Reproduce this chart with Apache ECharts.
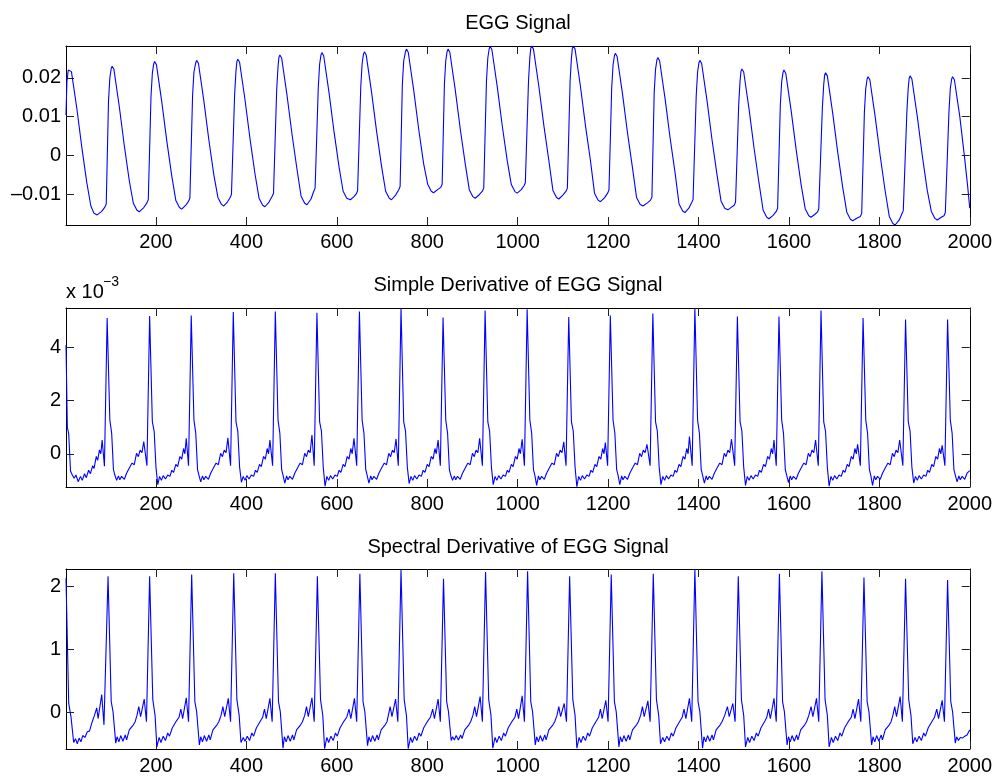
<!DOCTYPE html>
<html>
<head>
<meta charset="utf-8">
<script src="https://cdn.jsdelivr.net/npm/echarts@6/dist/echarts.min.js"></script>
<style>
html,body{margin:0;padding:0;background:#fff;}
#chart{width:995px;height:778px;}
</style>
</head>
<body>
<div id="chart"></div>
<script>
// ---- data (sample index, value) ----
const titles = ['EGG Signal', 'Simple Derivative of EGG Signal', 'Spectral Derivative of EGG Signal'];
const xTicks = [200, 400, 600, 800, 1000, 1200, 1400, 1600, 1800, 2000];
const yTicksEgg = [-0.01, 0, 0.01, 0.02];
const yTicksSimple = [0, 2, 4];      // in units of 1e-3
const yTicksSpectral = [0, 1, 2];

const egg = [
[1,.0104],[3,.0190],[6,.0220],[9,.0224],[13,.0216],[25,.0121],[36,.0021],[47,-.0070],[56,-.0130],[63,-.0149],[70,-.0153],[80,-.0144],[87,-.0133],[90,-.0125],
[91,-.0121],[95,.0140],[98,.0200],[101,.0224],[103,.0230],[107,.0222],[119,.0125],[130,.0025],[141,-.0065],[150,-.0123],[158,-.0141],[163,-.0145],[173,-.0134],[180,-.0122],[183,-.0114],
[185,-.0110],[189,.0152],[192,.0212],[195,.0236],[197,.0242],[201,.0234],[213,.0137],[224,.0037],[235,-.0053],[244,-.0116],[252,-.0134],[257,-.0138],[266,-.0128],[272,-.0118],[275,-.0110],
[277,-.0106],[281,.0155],[284,.0215],[288,.0239],[290,.0245],[294,.0237],[306,.0140],[317,.0040],[328,-.0050],[337,-.0108],[345,-.0126],[350,-.0130],[358,-.0120],[364,-.0108],[367,-.0100],
[370,-.0096],[374,.0158],[377,.0218],[379,.0242],[381,.0248],[385,.0240],[397,.0143],[408,.0043],[419,-.0047],[428,-.0110],[436,-.0128],[441,-.0132],[450,-.0120],[457,-.0105],[460,-.0097],
[463,-.0093],[467,.0169],[470,.0229],[472,.0253],[474,.0259],[478,.0251],[490,.0154],[501,.0054],[512,-.0036],[521,-.0105],[529,-.0123],[534,-.0127],[543,-.0112],[549,-.0092],[552,-.0084],
[555,-.0080],[559,.0175],[562,.0235],[565,.0259],[567,.0265],[571,.0257],[583,.0160],[594,.0060],[605,-.0030],[614,-.0092],[622,-.0110],[630,-.0114],[638,-.0106],[643,-.0099],[646,-.0091],
[649,-.0087],[653,.0177],[656,.0237],[659,.0261],[661,.0267],[665,.0259],[677,.0162],[688,.0062],[699,-.0028],[708,-.0092],[716,-.0110],[721,-.0114],[730,-.0102],[737,-.0088],[740,-.0080],
[741,-.0076],[745,.0184],[748,.0244],[752,.0268],[754,.0274],[758,.0266],[770,.0169],[781,.0069],[792,-.0021],[801,-.0074],[809,-.0092],[814,-.0096],[823,-.0088],[830,-.0082],[833,-.0074],
[834,-.0070],[838,.0184],[841,.0244],[844,.0268],[846,.0274],[850,.0266],[862,.0169],[873,.0069],[884,-.0021],[893,-.0088],[901,-.0106],[906,-.0110],[915,-.0101],[922,-.0092],[925,-.0084],
[927,-.0080],[931,.0191],[934,.0251],[937,.0275],[939,.0281],[943,.0273],[955,.0176],[966,.0076],[977,-.0014],[986,-.0075],[994,-.0093],[999,-.0097],[1008,-.0088],[1014,-.0078],[1017,-.0070],
[1020,-.0066],[1024,.0192],[1027,.0252],[1029,.0276],[1031,.0282],[1035,.0274],[1047,.0177],[1058,.0077],[1069,-.0013],[1078,-.0090],[1086,-.0108],[1091,-.0112],[1100,-.0102],[1107,-.0092],[1110,-.0084],
[1112,-.0080],[1116,.0192],[1119,.0252],[1121,.0276],[1123,.0282],[1127,.0274],[1139,.0177],[1150,.0077],[1161,-.0013],[1170,-.0097],[1178,-.0115],[1183,-.0119],[1192,-.0109],[1199,-.0097],[1202,-.0089],
[1204,-.0085],[1208,.0173],[1211,.0233],[1214,.0257],[1216,.0263],[1220,.0255],[1232,.0158],[1243,.0058],[1254,-.0032],[1263,-.0108],[1271,-.0126],[1277,-.0130],[1287,-.0122],[1294,-.0115],[1297,-.0107],
[1298,-.0103],[1302,.0162],[1305,.0222],[1308,.0246],[1310,.0252],[1314,.0244],[1326,.0147],[1337,.0047],[1348,-.0043],[1357,-.0125],[1365,-.0143],[1370,-.0147],[1379,-.0135],[1385,-.0121],[1388,-.0113],
[1391,-.0109],[1395,.0155],[1398,.0215],[1401,.0239],[1403,.0245],[1407,.0237],[1419,.0140],[1430,.0040],[1441,-.0050],[1450,-.0118],[1458,-.0136],[1465,-.0140],[1473,-.0133],[1479,-.0128],[1482,-.0120],
[1485,-.0116],[1489,.0133],[1492,.0193],[1494,.0217],[1496,.0223],[1500,.0215],[1512,.0118],[1523,.0018],[1534,-.0072],[1543,-.0141],[1551,-.0159],[1556,-.0163],[1565,-.0154],[1572,-.0144],[1575,-.0136],
[1577,-.0132],[1581,.0130],[1584,.0190],[1587,.0214],[1589,.0220],[1593,.0212],[1605,.0115],[1616,.0015],[1627,-.0075],[1636,-.0137],[1644,-.0155],[1649,-.0159],[1657,-.0152],[1663,-.0146],[1666,-.0138],
[1670,-.0134],[1674,.0123],[1677,.0183],[1679,.0207],[1681,.0213],[1685,.0205],[1697,.0108],[1708,.0008],[1719,-.0082],[1728,-.0146],[1736,-.0164],[1741,-.0168],[1751,-.0161],[1758,-.0157],[1761,-.0149],
[1763,-.0145],[1767,.0113],[1770,.0173],[1773,.0197],[1775,.0203],[1779,.0195],[1791,.0098],[1802,-.0002],[1813,-.0092],[1822,-.0157],[1830,-.0175],[1835,-.0179],[1844,-.0166],[1850,-.0150],[1853,-.0142],
[1857,-.0138],[1861,.0115],[1864,.0175],[1866,.0199],[1868,.0205],[1872,.0197],[1884,.0100],[1895,.0000],[1906,-.0090],[1915,-.0144],[1923,-.0162],[1928,-.0166],[1937,-.0159],[1943,-.0155],[1946,-.0147],
[1950,-.0143],[1954,.0113],[1957,.0173],[1960,.0197],[1962,.0203],[1966,.0195],[1978,.0100],[1989,-.0010],[1995,-.0075],[2000,-.0136]
];

// simple derivative, values in units of 1e-3
const simpleDeriv = [
[1,4.10],[4,1.00],[7,0.75],[11,-0.65],[15,-0.80],[19,-0.92],[23,-0.80],[28,-1.05],[33,-0.85],[37,-1.00],[42,-0.75],[46,-0.90],[51,-0.62],[55,-0.75],[60,-0.45],[63,-0.55],[68,-0.10],[71,-0.25],[75,0.15],[78,0.00],[81,0.52],[86,-0.47],
[92,5.11],[98,1.27],[102,0.78],[106,-0.60],[109,-0.80],[113,-1.00],[117,-0.83],[120,-0.98],[124,-0.85],[130,-0.96],[135,-0.73],[139,-0.60],[142,-0.66],[147,-0.35],[152,-0.41],[157,0.02],[161,-0.11],[165,0.14],[169,0.04],[173,0.46],[180,-0.45],
[186,5.19],[192,1.20],[196,0.85],[200,-0.50],[204,-1.16],[208,-0.85],[212,-1.00],[216,-0.82],[221,-0.95],[226,-0.80],[231,-0.85],[235,-0.62],[239,-0.70],[244,-0.40],[248,-0.48],[253,-0.10],[257,-0.20],[261,0.20],[264,0.00],[267,0.58],[272,-0.45],
[278,5.21],[284,1.27],[288,0.78],[292,-0.60],[295,-0.80],[299,-1.06],[303,-0.83],[306,-0.98],[310,-0.85],[316,-0.96],[321,-0.73],[325,-0.60],[328,-0.66],[333,-0.35],[338,-0.41],[343,0.02],[347,-0.11],[351,0.14],[355,0.04],[359,0.60],[365,-0.45],
[371,5.34],[377,1.20],[381,0.85],[385,-0.50],[389,-1.07],[393,-0.85],[397,-1.00],[401,-0.82],[406,-0.95],[411,-0.80],[416,-0.85],[420,-0.62],[424,-0.70],[429,-0.40],[433,-0.48],[438,-0.10],[442,-0.20],[446,0.20],[449,0.00],[452,0.52],[458,-0.45],
[464,5.36],[470,1.27],[474,0.78],[478,-0.60],[481,-0.80],[485,-1.10],[489,-0.83],[492,-0.98],[496,-0.85],[502,-0.96],[507,-0.73],[511,-0.60],[514,-0.66],[519,-0.35],[524,-0.41],[529,0.02],[533,-0.11],[537,0.14],[541,0.04],[545,0.71],[550,-0.45],
[556,5.31],[562,1.20],[566,0.85],[570,-0.50],[574,-1.22],[578,-0.85],[582,-1.00],[586,-0.82],[591,-0.95],[596,-0.80],[601,-0.85],[605,-0.62],[609,-0.70],[614,-0.40],[618,-0.48],[623,-0.10],[627,-0.20],[631,0.20],[634,0.00],[638,0.58],[644,-0.45],
[650,5.36],[656,1.27],[660,0.78],[664,-0.60],[667,-0.80],[671,-1.10],[675,-0.83],[678,-0.98],[682,-0.85],[688,-0.96],[693,-0.73],[697,-0.60],[700,-0.66],[705,-0.35],[710,-0.41],[715,0.02],[719,-0.11],[723,0.14],[727,0.04],[731,0.56],[736,-0.45],
[742,5.48],[748,1.20],[752,0.85],[756,-0.50],[760,-1.12],[764,-0.85],[768,-1.00],[772,-0.82],[777,-0.95],[782,-0.80],[787,-0.85],[791,-0.62],[795,-0.70],[800,-0.40],[804,-0.48],[809,-0.10],[813,-0.20],[817,0.20],[820,0.00],[824,0.52],[829,-0.45],
[835,5.13],[841,1.27],[845,0.78],[849,-0.60],[852,-0.80],[856,-1.00],[860,-0.83],[863,-0.98],[867,-0.85],[873,-0.96],[878,-0.73],[882,-0.60],[885,-0.66],[890,-0.35],[895,-0.41],[900,0.02],[904,-0.11],[908,0.14],[912,0.04],[916,0.58],[922,-0.45],
[928,5.40],[934,1.20],[938,0.85],[942,-0.50],[946,-1.16],[950,-0.85],[954,-1.00],[958,-0.82],[963,-0.95],[968,-0.80],[973,-0.85],[977,-0.62],[981,-0.70],[986,-0.40],[990,-0.48],[995,-0.10],[999,-0.20],[1003,0.20],[1006,0.00],[1010,0.55],[1015,-0.45],
[1021,5.44],[1027,1.27],[1031,0.78],[1035,-0.60],[1038,-0.80],[1042,-1.19],[1046,-0.83],[1049,-0.98],[1053,-0.85],[1059,-0.96],[1064,-0.73],[1068,-0.60],[1071,-0.66],[1076,-0.35],[1081,-0.41],[1086,0.02],[1090,-0.11],[1094,0.14],[1098,0.04],[1102,0.45],[1107,-0.45],
[1113,5.15],[1119,1.20],[1123,0.85],[1127,-0.50],[1131,-1.24],[1135,-0.85],[1139,-1.00],[1143,-0.82],[1148,-0.95],[1153,-0.80],[1158,-0.85],[1162,-0.62],[1166,-0.70],[1171,-0.40],[1175,-0.48],[1180,-0.10],[1184,-0.20],[1188,0.20],[1191,0.00],[1194,0.42],[1199,-0.45],
[1205,5.21],[1211,1.27],[1215,0.78],[1219,-0.60],[1222,-0.80],[1226,-1.16],[1230,-0.83],[1233,-0.98],[1237,-0.85],[1243,-0.96],[1248,-0.73],[1252,-0.60],[1255,-0.66],[1260,-0.35],[1265,-0.41],[1270,0.02],[1274,-0.11],[1278,0.14],[1282,0.04],[1286,0.36],[1293,-0.45],
[1299,5.28],[1305,1.20],[1309,0.85],[1313,-0.50],[1317,-1.16],[1321,-0.85],[1325,-1.00],[1329,-0.82],[1334,-0.95],[1339,-0.80],[1344,-0.85],[1348,-0.62],[1352,-0.70],[1357,-0.40],[1361,-0.48],[1366,-0.10],[1370,-0.20],[1374,0.20],[1377,0.00],[1380,0.65],[1386,-0.45],
[1392,5.49],[1398,1.27],[1402,0.78],[1406,-0.60],[1409,-0.80],[1413,-1.10],[1417,-0.83],[1420,-0.98],[1424,-0.85],[1430,-0.96],[1435,-0.73],[1439,-0.60],[1442,-0.66],[1447,-0.35],[1452,-0.41],[1457,0.02],[1461,-0.11],[1465,0.14],[1469,0.04],[1473,0.55],[1480,-0.45],
[1486,5.17],[1492,1.20],[1496,0.85],[1500,-0.50],[1504,-1.19],[1508,-0.85],[1512,-1.00],[1516,-0.82],[1521,-0.95],[1526,-0.80],[1531,-0.85],[1535,-0.62],[1539,-0.70],[1544,-0.40],[1548,-0.48],[1553,-0.10],[1557,-0.20],[1561,0.20],[1564,0.00],[1567,0.52],[1572,-0.45],
[1578,5.17],[1584,1.27],[1588,0.78],[1592,-0.60],[1595,-0.80],[1599,-1.08],[1603,-0.83],[1606,-0.98],[1610,-0.85],[1616,-0.96],[1621,-0.73],[1625,-0.60],[1628,-0.66],[1633,-0.35],[1638,-0.41],[1643,0.02],[1647,-0.11],[1651,0.14],[1655,0.04],[1659,0.52],[1665,-0.45],
[1671,5.40],[1677,1.20],[1681,0.85],[1685,-0.50],[1689,-1.22],[1693,-0.85],[1697,-1.00],[1701,-0.82],[1706,-0.95],[1711,-0.80],[1716,-0.85],[1720,-0.62],[1724,-0.70],[1729,-0.40],[1733,-0.48],[1738,-0.10],[1742,-0.20],[1746,0.20],[1749,0.00],[1752,0.36],[1758,-0.45],
[1764,5.11],[1770,1.27],[1774,0.78],[1778,-0.60],[1781,-0.80],[1785,-1.19],[1789,-0.83],[1792,-0.98],[1796,-0.85],[1802,-0.96],[1807,-0.73],[1811,-0.60],[1814,-0.66],[1819,-0.35],[1824,-0.41],[1829,0.02],[1833,-0.11],[1837,0.14],[1841,0.04],[1845,0.52],[1852,-0.45],
[1858,5.06],[1864,1.20],[1868,0.85],[1872,-0.50],[1876,-1.10],[1880,-0.85],[1884,-1.00],[1888,-0.82],[1893,-0.95],[1898,-0.80],[1903,-0.85],[1907,-0.62],[1911,-0.70],[1916,-0.40],[1920,-0.48],[1925,-0.10],[1929,-0.20],[1933,0.20],[1936,0.00],[1939,0.32],[1945,-0.45],
[1951,5.06],[1957,1.27],[1961,0.78],[1965,-0.60],[1968,-0.80],[1972,-1.06],[1976,-0.83],[1979,-0.98],[1983,-0.85],[1989,-0.96],[1994,-0.73],[2000,-0.63]
];

const spectralDeriv = [
[1,2.13],[7,0.14],[12,-0.07],[18,-0.48],[22,-0.42],[26,-0.50],[30,-0.41],[34,-0.47],[38,-0.37],[43,-0.40],[48,-0.31],[53,-0.30],[59,-0.15],[64,-0.05],[69,0.07],[72,-0.10],[80,0.28],[85,-0.20],
[94,2.16],[101,0.17],[105,0.01],[111,-0.49],[114,-0.39],[118,-0.47],[122,-0.37],[127,-0.46],[132,-0.36],[135,-0.44],[141,-0.28],[145,-0.30],[150,-0.20],[154,-0.15],[158,-0.05],[162,0.09],[166,-0.07],[174,0.21],[179,-0.15],
[186,2.16],[193,0.20],[198,-0.05],[202,-0.55],[207,-0.40],[211,-0.48],[216,-0.38],[221,-0.45],[226,-0.33],[230,-0.38],[236,-0.25],[240,-0.27],[245,-0.14],[251,-0.08],[255,0.05],[259,-0.10],[267,0.23],[272,-0.15],
[279,2.19],[286,0.17],[290,0.01],[296,-0.52],[299,-0.39],[303,-0.47],[307,-0.37],[312,-0.46],[317,-0.36],[320,-0.44],[326,-0.28],[330,-0.30],[335,-0.20],[339,-0.15],[344,-0.05],[348,0.09],[352,-0.07],[360,0.22],[365,-0.15],
[372,2.21],[379,0.20],[384,-0.05],[388,-0.48],[393,-0.40],[397,-0.46],[402,-0.38],[407,-0.45],[412,-0.33],[416,-0.38],[422,-0.25],[426,-0.27],[431,-0.14],[436,-0.08],[440,0.05],[444,-0.10],[452,0.22],[457,-0.15],
[464,2.21],[471,0.17],[475,0.01],[481,-0.57],[484,-0.39],[488,-0.47],[492,-0.37],[497,-0.46],[502,-0.36],[505,-0.44],[511,-0.28],[515,-0.30],[520,-0.20],[524,-0.15],[529,-0.05],[533,0.09],[537,-0.07],[545,0.23],[550,-0.15],
[557,2.16],[564,0.20],[569,-0.05],[573,-0.58],[578,-0.40],[582,-0.48],[587,-0.38],[592,-0.45],[597,-0.33],[601,-0.38],[607,-0.25],[611,-0.27],[616,-0.14],[622,-0.08],[627,0.05],[631,-0.10],[639,0.22],[644,-0.15],
[651,2.20],[658,0.17],[662,0.01],[668,-0.53],[671,-0.39],[675,-0.47],[679,-0.37],[684,-0.46],[689,-0.36],[692,-0.44],[698,-0.28],[702,-0.30],[707,-0.20],[711,-0.15],[714,-0.05],[718,0.09],[722,-0.07],[730,0.21],[735,-0.15],
[742,2.27],[749,0.20],[754,-0.05],[758,-0.58],[763,-0.40],[767,-0.48],[772,-0.38],[777,-0.45],[782,-0.33],[786,-0.38],[792,-0.25],[796,-0.27],[801,-0.14],[807,-0.08],[812,0.05],[816,-0.10],[824,0.21],[829,-0.15],
[836,2.12],[843,0.17],[847,0.01],[853,-0.45],[856,-0.39],[860,-0.44],[864,-0.37],[869,-0.44],[874,-0.36],[877,-0.42],[883,-0.28],[887,-0.30],[892,-0.20],[896,-0.15],[901,-0.05],[905,0.09],[909,-0.07],[917,0.25],[922,-0.15],
[929,2.23],[936,0.20],[941,-0.05],[945,-0.57],[950,-0.40],[954,-0.48],[959,-0.38],[964,-0.45],[969,-0.33],[973,-0.38],[979,-0.25],[983,-0.27],[988,-0.14],[994,-0.08],[998,0.05],[1002,-0.10],[1010,0.26],[1015,-0.15],
[1022,2.24],[1029,0.17],[1033,0.01],[1039,-0.52],[1042,-0.39],[1046,-0.47],[1050,-0.37],[1055,-0.46],[1060,-0.36],[1063,-0.44],[1069,-0.28],[1073,-0.30],[1078,-0.20],[1082,-0.15],[1087,-0.05],[1091,0.09],[1095,-0.07],[1103,0.14],[1108,-0.15],
[1115,2.16],[1122,0.20],[1127,-0.05],[1131,-0.57],[1136,-0.40],[1140,-0.48],[1145,-0.38],[1150,-0.45],[1155,-0.33],[1159,-0.38],[1165,-0.25],[1169,-0.27],[1174,-0.14],[1179,-0.08],[1183,0.05],[1187,-0.10],[1195,0.19],[1200,-0.15],
[1207,2.19],[1214,0.17],[1218,0.01],[1224,-0.55],[1227,-0.39],[1231,-0.47],[1235,-0.37],[1240,-0.46],[1245,-0.36],[1248,-0.44],[1254,-0.28],[1258,-0.30],[1263,-0.20],[1267,-0.15],[1272,-0.05],[1276,0.09],[1280,-0.07],[1288,0.18],[1293,-0.15],
[1300,2.20],[1307,0.20],[1312,-0.05],[1316,-0.50],[1321,-0.40],[1325,-0.47],[1330,-0.38],[1335,-0.45],[1340,-0.33],[1344,-0.38],[1350,-0.25],[1354,-0.27],[1359,-0.14],[1364,-0.08],[1368,0.05],[1372,-0.10],[1380,0.22],[1385,-0.15],
[1392,2.277],[1399,0.17],[1403,0.01],[1409,-0.57],[1412,-0.39],[1416,-0.47],[1420,-0.37],[1425,-0.46],[1430,-0.36],[1433,-0.44],[1439,-0.28],[1443,-0.30],[1448,-0.20],[1452,-0.15],[1458,-0.05],[1464,0.09],[1468,-0.07],[1476,0.14],[1481,-0.15],
[1488,2.16],[1495,0.20],[1500,-0.05],[1504,-0.55],[1509,-0.40],[1513,-0.48],[1518,-0.38],[1523,-0.45],[1528,-0.33],[1532,-0.38],[1538,-0.25],[1542,-0.27],[1547,-0.14],[1551,-0.08],[1555,0.05],[1559,-0.10],[1567,0.22],[1572,-0.15],
[1579,2.20],[1586,0.17],[1590,0.01],[1596,-0.52],[1599,-0.39],[1603,-0.47],[1607,-0.37],[1612,-0.46],[1617,-0.36],[1620,-0.44],[1626,-0.28],[1630,-0.30],[1635,-0.20],[1639,-0.15],[1644,-0.05],[1649,0.09],[1653,-0.07],[1661,0.22],[1666,-0.15],
[1673,2.24],[1680,0.20],[1685,-0.05],[1689,-0.55],[1694,-0.40],[1698,-0.48],[1703,-0.38],[1708,-0.45],[1713,-0.33],[1717,-0.38],[1723,-0.25],[1727,-0.27],[1732,-0.14],[1738,-0.08],[1742,0.05],[1746,-0.10],[1754,0.21],[1759,-0.15],
[1766,2.14],[1773,0.17],[1777,0.01],[1783,-0.52],[1786,-0.39],[1790,-0.47],[1794,-0.37],[1799,-0.46],[1804,-0.36],[1807,-0.44],[1813,-0.28],[1817,-0.30],[1822,-0.20],[1826,-0.15],[1830,-0.05],[1834,0.09],[1838,-0.07],[1846,0.25],[1851,-0.15],
[1858,2.12],[1865,0.20],[1870,-0.05],[1874,-0.50],[1879,-0.40],[1883,-0.47],[1888,-0.38],[1893,-0.45],[1898,-0.33],[1902,-0.38],[1908,-0.25],[1912,-0.27],[1917,-0.14],[1922,-0.08],[1927,0.05],[1931,-0.10],[1939,0.19],[1944,-0.15],
[1951,2.10],[1958,0.17],[1962,0.01],[1968,-0.49],[1971,-0.39],[1975,-0.45],[1979,-0.40],[1984,-0.41],[1989,-0.38],[1994,-0.36],[2000,-0.28]
];

// ---- chart ----
const FONT = "'Liberation Sans', Arial, Helvetica, sans-serif";
const panels = [
  { data: egg, yMin: -0.0179, yMax: 0.0282, yTicks: yTicksEgg, top: 46, height: 179 },
  { data: simpleDeriv, yMin: -1.25, yMax: 5.49, yTicks: yTicksSimple, top: 308, height: 179 },
  { data: spectralDeriv, yMin: -0.584, yMax: 2.277, yTicks: yTicksSpectral, top: 569, height: 180 }
];
const fmtY = v => (v < 0 ? '\u2013' : '') + String(Math.abs(v));
const fmtX = v => String(v);

const grids = [], xAxes = [], yAxes = [], series = [];
panels.forEach((p, i) => {
  grids.push({ left: 66, width: 904, top: p.top, height: p.height, show: false, containLabel: false });
  ['bottom', 'top'].forEach((pos, j) => {
    xAxes.push({
      gridIndex: i, type: 'value', min: 1, max: 2000, position: pos,
      axisLine: { show: true, onZero: false, lineStyle: { color: '#000', width: 1 } },
      axisTick: { show: true, inside: true, length: 8, customValues: xTicks, lineStyle: { color: '#222', width: 1 } },
      axisLabel: { show: j === 0, customValues: xTicks, margin: 7, color: '#000', fontSize: 20, fontFamily: FONT, formatter: fmtX },
      splitLine: { show: false }
    });
  });
  ['left', 'right'].forEach((pos, j) => {
    yAxes.push({
      gridIndex: i, type: 'value', min: p.yMin, max: p.yMax, position: pos,
      axisLine: { show: true, onZero: false, lineStyle: { color: '#000', width: 1 } },
      axisTick: { show: true, inside: true, length: 8, customValues: p.yTicks, lineStyle: { color: '#222', width: 1 } },
      axisLabel: { show: j === 0, customValues: p.yTicks, margin: 5, color: '#000', fontSize: 20, fontFamily: FONT, formatter: fmtY },
      splitLine: { show: false }
    });
  });
  series.push({
    type: 'line', xAxisIndex: 2 * i, yAxisIndex: 2 * i, data: p.data,
    showSymbol: false, symbol: 'none', silent: true, clip: true,
    lineStyle: { color: '#0000ff', width: 1.1 }
  });
});

const chart = echarts.init(document.getElementById('chart'), null, { renderer: 'canvas' });
chart.setOption({
  backgroundColor: '#fff',
  animation: false,
  grid: grids, xAxis: xAxes, yAxis: yAxes, series: series,
  graphic: [
    { type: 'text', x: 518, y: 23, style: { text: titles[0], align: 'center', verticalAlign: 'middle', fill: '#000', fontSize: 20, fontFamily: FONT } },
    { type: 'text', x: 518, y: 285, style: { text: titles[1], align: 'center', verticalAlign: 'middle', fill: '#000', fontSize: 20, fontFamily: FONT } },
    { type: 'text', x: 518, y: 547, style: { text: titles[2], align: 'center', verticalAlign: 'middle', fill: '#000', fontSize: 20, fontFamily: FONT } },
    { type: 'text', x: 66, y: 292, style: { text: 'x 10', align: 'left', verticalAlign: 'middle', fill: '#000', fontSize: 20, fontFamily: FONT } },
    { type: 'text', x: 103, y: 282, style: { text: '\u22123', align: 'left', verticalAlign: 'middle', fill: '#000', fontSize: 14, fontFamily: FONT } }
  ]
});
</script>
</body>
</html>
